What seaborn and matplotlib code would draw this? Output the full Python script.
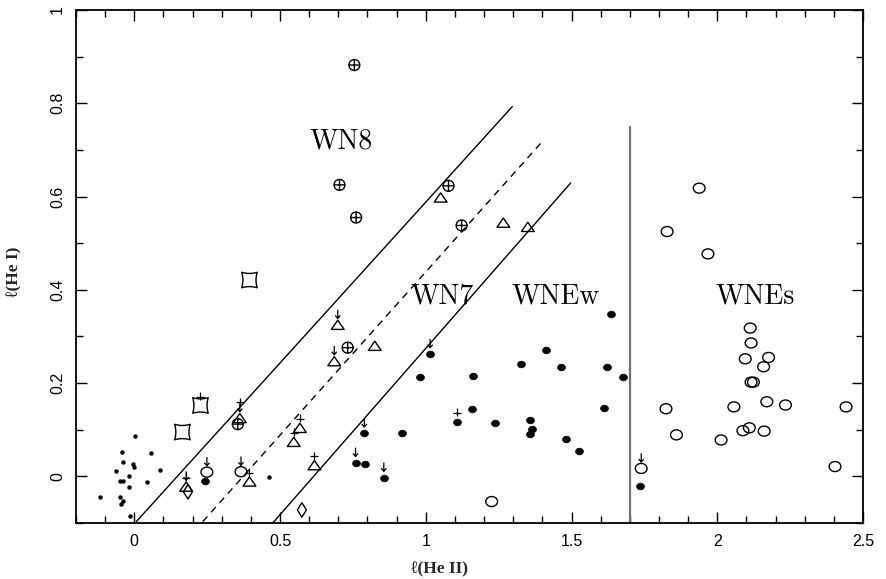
import numpy as np
import matplotlib
matplotlib.use("Agg")
import matplotlib.pyplot as plt
from matplotlib.path import Path
from matplotlib.ticker import MultipleLocator
import seaborn as sns

# ---------------- data ----------------
# small dots (WNL-type, weak lines)
dot_x = [0.004, -0.042, 0.057, -0.040, -0.004, -0.002, -0.063, 0.088, -0.017,
         -0.049, -0.039, 0.043, -0.018, -0.117, -0.050, -0.039, -0.047, -0.016, 0.463]
dot_y = [0.087, 0.052, 0.051, 0.030, 0.026, 0.021, 0.012, 0.013, 0.001,
         -0.009, -0.011, -0.013, -0.023, -0.044, -0.045, -0.053, -0.059, -0.084, -0.001]

# filled circles (WNEw)
wnew_x = [1.015, 0.979, 1.163, 1.160, 1.106, 0.918, 0.789, 0.759, 0.791, 0.856,
          1.637, 1.414, 1.326, 1.465, 1.622, 1.678, 1.613, 1.239, 1.356, 1.364,
          1.359, 1.482, 1.525, 1.736, 0.244]
wnew_y = [0.262, 0.212, 0.215, 0.145, 0.117, 0.092, 0.092, 0.029, 0.027, -0.003,
          0.348, 0.272, 0.240, 0.234, 0.235, 0.214, 0.146, 0.114, 0.121, 0.102,
          0.090, 0.080, 0.055, -0.021, -0.011]

# open circles (WNEs and others)
wnes_x = [1.938, 1.828, 1.968, 2.113, 2.116, 2.096, 2.176, 2.159, 2.116, 2.124,
          2.170, 1.824, 2.057, 2.234, 2.442, 1.860, 2.013, 2.088, 2.110, 2.161,
          2.404, 1.739, 1.226, 0.249, 0.366]
wnes_y = [0.618, 0.525, 0.477, 0.318, 0.286, 0.252, 0.255, 0.235, 0.202, 0.202,
          0.160, 0.145, 0.149, 0.153, 0.149, 0.089, 0.078, 0.098, 0.104, 0.097,
          0.021, 0.017, -0.054, 0.009, 0.010]

# circle-plus (WN8)
wn8_x = [0.755, 0.704, 0.761, 1.078, 1.123, 0.732, 0.355]
wn8_y = [0.882, 0.625, 0.555, 0.623, 0.538, 0.276, 0.112]

# open triangles (WN7)
wn7_x = [1.051, 1.266, 1.350, 0.698, 0.825, 0.686, 0.568, 0.547, 0.618, 0.395, 0.362, 0.178]
wn7_y = [0.598, 0.544, 0.535, 0.325, 0.280, 0.247, 0.104, 0.074, 0.024, -0.011, 0.125, -0.022]

# concave squares
sq_x = [0.395, 0.227, 0.165]
sq_y = [0.421, 0.152, 0.095]

# diamonds
dia_x = [0.184, 0.575]
dia_y = [-0.033, -0.072]

# points flagged with an upper-limit arrow
arr_x = [0.698, 0.686, 1.015, 0.789, 0.759, 0.856, 1.739, 0.249, 0.366, 0.178, 0.362]
arr_y = [0.325, 0.247, 0.262, 0.092, 0.029, -0.003, 0.017, 0.009, 0.010, -0.022, 0.125]

# points flagged with a plus
plus_x = [0.227, 0.568, 0.547, 0.618, 0.395, 1.106, 0.362, 0.178]
plus_y = [0.152, 0.104, 0.074, 0.024, -0.011, 0.117, 0.140, -0.022]

# classification boundaries
bound1_x = [0.007, 1.297]
bound1_y = [-0.097, 0.793]
bound2_x = [0.235, 1.394]
bound2_y = [-0.097, 0.714]
bound3_x = [0.475, 1.497]
bound3_y = [-0.100, 0.629]
vline_x = [1.70, 1.70]
vline_y = [-0.10, 0.75]

labels = ["WN8", "WN7", "WNEw", "WNEs"]
label_x = [0.709, 1.057, 1.445, 2.130]
label_y = [0.718, 0.385, 0.385, 0.387]

# ---------------- markers ----------------
M, L, C3, CL = Path.MOVETO, Path.LINETO, Path.CURVE3, Path.CLOSEPOLY

circ = Path.unit_circle()
ell_path = Path(circ.vertices * np.array([1.0, 0.85]), circ.codes)
cross = Path([[-1, 0], [1, 0], [0, -1], [0, 1]], [M, L, M, L])
oplus_path = Path.make_compound_path(circ, cross)
tri_path = Path([[0, 0.72], [-1, -0.72], [1, -0.72], [0, 0.72]], [M, L, L, CL])
q = 0.68
csq_path = Path([[-1, 1], [0, q], [1, 1], [q, 0], [1, -1],
                 [0, -q], [-1, -1], [-q, 0], [-1, 1], [-1, 1]],
                [M, C3, C3, C3, C3, C3, C3, C3, C3, CL])
dia_path = Path([[0, 1], [-0.62, 0], [0, -1], [0.62, 0], [0, 1]], [M, L, L, L, CL])
arrow_path = Path([[0, 1.0], [0, 0.42], [-0.17, 0.62], [0, 0.42], [0.17, 0.62]],
                  [M, L, M, L, L])
plus_path = Path([[0, 0.40], [0, 1.0], [-0.3, 0.66], [0.3, 0.66]], [M, L, M, L])

# ---------------- figure ----------------
sns.set_theme(style="white")
plt.rcParams["font.family"] = ["Liberation Sans", "DejaVu Sans"]

fig = plt.figure(figsize=(8.86, 5.79), dpi=100)
ax = fig.add_axes([76 / 886, 1 - 523 / 579, 787 / 886, 513 / 579])

lw = 1.0
common = dict(ax=ax, sort=False, estimator=None, errorbar=None)
sns.lineplot(x=bound1_x, y=bound1_y, color="black", lw=1.0, **common)
sns.lineplot(x=bound2_x, y=bound2_y, color="black", lw=1.0,
             linestyle=(0, (5, 4)), **common)
sns.lineplot(x=bound3_x, y=bound3_y, color="black", lw=1.0, **common)
sns.lineplot(x=vline_x, y=vline_y, color="#707070", lw=1.6, **common)

sns.scatterplot(x=dot_x, y=dot_y, ax=ax, marker="o", s=8, color="black",
                edgecolor="black", linewidth=0.3)
sns.scatterplot(x=wnew_x, y=wnew_y, ax=ax, marker=ell_path, s=32, color="black",
                edgecolor="black", linewidth=0.5)
sns.scatterplot(x=wnes_x, y=wnes_y, ax=ax, marker=ell_path, s=72,
                facecolors="none", edgecolor="black", linewidth=lw)
sns.scatterplot(x=wn8_x, y=wn8_y, ax=ax, marker=oplus_path, s=62,
                facecolors="none", edgecolor="black", linewidth=lw)
sns.scatterplot(x=wn7_x, y=wn7_y, ax=ax, marker=tri_path, s=85,
                facecolors="none", edgecolor="black", linewidth=lw)
sns.scatterplot(x=sq_x, y=sq_y, ax=ax, marker=csq_path, s=125,
                facecolors="none", edgecolor="black", linewidth=lw)
sns.scatterplot(x=dia_x, y=dia_y, ax=ax, marker=dia_path, s=110,
                facecolors="none", edgecolor="black", linewidth=lw)
sns.scatterplot(x=arr_x, y=arr_y, ax=ax, marker=arrow_path, s=480,
                facecolors="none", edgecolor="black", linewidth=0.9)
sns.scatterplot(x=plus_x, y=plus_y, ax=ax, marker=plus_path, s=380,
                facecolors="none", edgecolor="black", linewidth=0.9)

for t, x, y in zip(labels, label_x, label_y):
    ax.text(x, y, t, ha="center", va="center", fontsize=20,
            family=["cmr10", "DejaVu Serif"], color="black")

ax.set_xlim(-0.2, 2.5)
ax.set_ylim(-0.1, 1.0)
ax.xaxis.set_minor_locator(MultipleLocator(0.1))
ax.yaxis.set_minor_locator(MultipleLocator(0.1))
ax.set_xticks([0, 0.5, 1, 1.5, 2, 2.5])
ax.set_xticklabels(["0", "0.5", "1", "1.5", "2", "2.5"])
ax.set_yticks([0, 0.2, 0.4, 0.6, 0.8, 1.0])
ax.set_yticklabels(["0", "0.2", "0.4", "0.6", "0.8", "1"])
ax.tick_params(which="both", direction="in", top=True, right=True,
               bottom=True, left=True, colors="black", width=1.0, labelsize=11.5)
ax.tick_params(which="major", length=8, pad=8)
ax.tick_params(which="minor", length=5)
for lab in ax.get_yticklabels():
    lab.set_rotation(90)
    lab.set_va("center")
for sp in ax.spines.values():
    sp.set_color("black")
    sp.set_linewidth(1.3)

ax.set_xlabel("ℓ(He II)", fontsize=12.5, family=["Liberation Serif", "DejaVu Serif"],
              fontweight="bold")
ax.set_ylabel("ℓ(He I)", fontsize=12.5, family=["Liberation Serif", "DejaVu Serif"],
              fontweight="bold")
ax.xaxis.set_label_coords(0.4625, -0.075)
ax.yaxis.set_label_coords(-0.068, 0.49)
ax.grid(False)

fig.savefig("out.png", dpi=100, facecolor="white")
